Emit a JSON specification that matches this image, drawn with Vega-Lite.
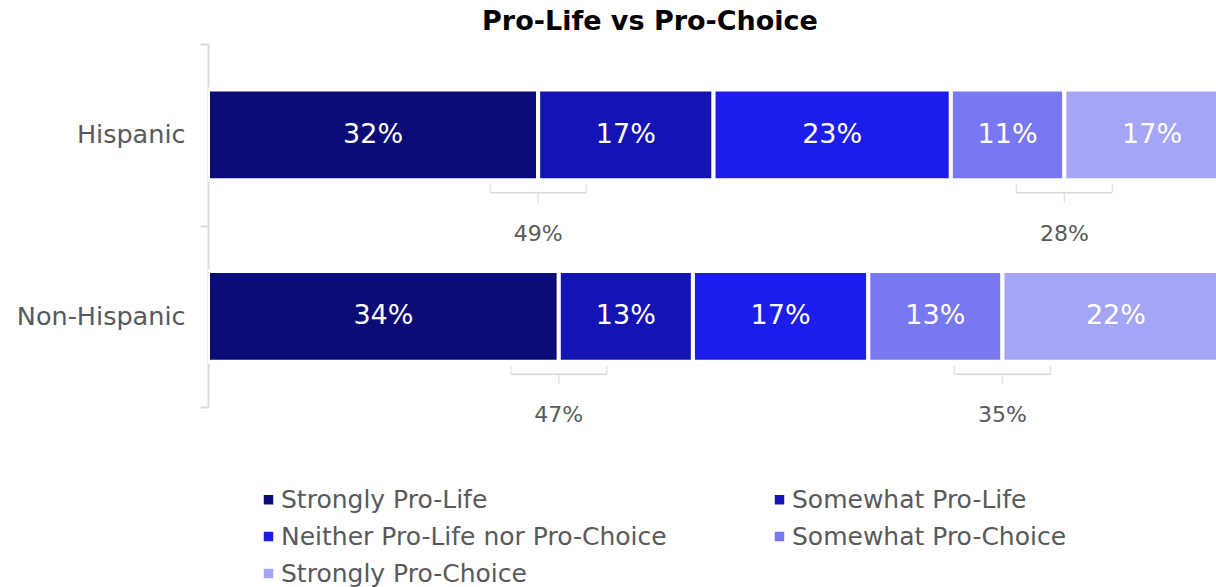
{
  "$schema": "https://vega.github.io/schema/vega-lite/v6.json",
  "autosize": {"type": "none"},
  "width": 1008,
  "height": 363,
  "padding": {"left": 208, "top": 44, "right": 0, "bottom": 180},
  "config": {"view": {"stroke": null}, "font": "DejaVu Sans"},
  "title": {"text": "Pro-Life vs Pro-Choice", "font": "DejaVu Sans", "fontSize": 27, "fontWeight": "bold", "color": "#000000", "anchor": "middle", "dx": -62, "offset": -4},
  "datasets": {
    "bars": [
      {"group": "Hispanic", "k": 1, "stance": "Strongly Pro-Life", "pct": 32, "label": "32%"},
      {"group": "Hispanic", "k": 2, "stance": "Somewhat Pro-Life", "pct": 17, "label": "17%"},
      {"group": "Hispanic", "k": 3, "stance": "Neither Pro-Life nor Pro-Choice", "pct": 23, "label": "23%"},
      {"group": "Hispanic", "k": 4, "stance": "Somewhat Pro-Choice", "pct": 11, "label": "11%"},
      {"group": "Hispanic", "k": 5, "stance": "Strongly Pro-Choice", "pct": 17, "label": "17%"},
      {"group": "Non-Hispanic", "k": 1, "stance": "Strongly Pro-Life", "pct": 34, "label": "34%"},
      {"group": "Non-Hispanic", "k": 2, "stance": "Somewhat Pro-Life", "pct": 13, "label": "13%"},
      {"group": "Non-Hispanic", "k": 3, "stance": "Neither Pro-Life nor Pro-Choice", "pct": 17, "label": "17%"},
      {"group": "Non-Hispanic", "k": 4, "stance": "Somewhat Pro-Choice", "pct": 13, "label": "13%"},
      {"group": "Non-Hispanic", "k": 5, "stance": "Strongly Pro-Choice", "pct": 22, "label": "22%"}
    ],
    "brackets": [
      {"group": "Hispanic", "at": 32, "label": "49%"},
      {"group": "Hispanic", "at": 83, "label": "28%"},
      {"group": "Non-Hispanic", "at": 34, "label": "47%"},
      {"group": "Non-Hispanic", "at": 77, "label": "35%"}
    ]
  },
  "layer": [
    {
      "data": {"name": "bars"},
      "mark": {"type": "bar", "height": {"band": 0.5}, "stroke": "white", "strokeWidth": 4, "clip": true},
      "encoding": {
        "y": {"field": "group", "type": "nominal", "sort": ["Hispanic", "Non-Hispanic"],
          "scale": {"paddingInner": 0, "paddingOuter": 0},
          "axis": {"title": null, "tickBand": "extent", "domainColor": "#D9D9D9", "domainWidth": 2, "tickColor": "#D9D9D9", "tickWidth": 2, "tickSize": 8, "labelFontSize": 25.5, "labelColor": "#595959", "labelPadding": 15, "labelFont": "DejaVu Sans"}},
        "x": {"field": "pct", "type": "quantitative", "stack": "zero", "scale": {"domain": [0, 97.7], "nice": false}, "axis": null},
        "order": {"field": "k", "type": "quantitative"},
        "color": {"field": "stance", "type": "nominal",
          "scale": {"domain": ["Strongly Pro-Life", "Somewhat Pro-Life", "Neither Pro-Life nor Pro-Choice", "Somewhat Pro-Choice", "Strongly Pro-Choice"],
            "range": ["#0C0C77", "#1414B4", "#1D1DEB", "#7878F0", "#A5A5F5"]},
          "legend": {"title": null, "orient": "none", "legendX": 48, "legendY": 443, "columns": 2, "direction": "horizontal", "symbolType": "square", "symbolSize": 90, "symbolStrokeWidth": 0, "labelFontSize": 25, "labelColor": "#595959", "labelFont": "DejaVu Sans", "labelLimit": 700, "labelOffset": 0, "rowPadding": 11, "columnPadding": 100}}
      }
    },
    {
      "data": {"name": "bars"},
      "mark": {"type": "text", "color": "white", "fontSize": 27, "font": "DejaVu Sans"},
      "encoding": {
        "y": {"field": "group", "type": "nominal", "sort": ["Hispanic", "Non-Hispanic"]},
        "x": {"field": "pct", "type": "quantitative", "stack": "zero", "bandPosition": 0.5},
        "order": {"field": "k", "type": "quantitative"},
        "text": {"field": "label"}
      }
    },
    {
      "data": {"name": "brackets"},
      "mark": {"type": "rule", "color": "#D9D9D9", "strokeWidth": 1.5, "xOffset": -48, "x2Offset": 48, "yOffset": 58},
      "encoding": {
        "y": {"field": "group", "type": "nominal", "sort": ["Hispanic", "Non-Hispanic"]},
        "x": {"field": "at", "type": "quantitative"},
        "x2": {"field": "at"}
      }
    },
    {
      "data": {"name": "brackets"},
      "mark": {"type": "tick", "color": "#D9D9D9", "thickness": 1.5, "size": 8, "xOffset": -48, "yOffset": 54},
      "encoding": {
        "y": {"field": "group", "type": "nominal", "sort": ["Hispanic", "Non-Hispanic"]},
        "x": {"field": "at", "type": "quantitative"}
      }
    },
    {
      "data": {"name": "brackets"},
      "mark": {"type": "tick", "color": "#D9D9D9", "thickness": 1.5, "size": 8, "xOffset": 48, "yOffset": 54},
      "encoding": {
        "y": {"field": "group", "type": "nominal", "sort": ["Hispanic", "Non-Hispanic"]},
        "x": {"field": "at", "type": "quantitative"}
      }
    },
    {
      "data": {"name": "brackets"},
      "mark": {"type": "tick", "color": "#D9D9D9", "thickness": 1.5, "size": 10, "yOffset": 63},
      "encoding": {
        "y": {"field": "group", "type": "nominal", "sort": ["Hispanic", "Non-Hispanic"]},
        "x": {"field": "at", "type": "quantitative"}
      }
    },
    {
      "data": {"name": "brackets"},
      "mark": {"type": "text", "color": "#595959", "fontSize": 22, "font": "DejaVu Sans", "yOffset": 99},
      "encoding": {
        "y": {"field": "group", "type": "nominal", "sort": ["Hispanic", "Non-Hispanic"]},
        "x": {"field": "at", "type": "quantitative"},
        "text": {"field": "label"}
      }
    }
  ]
}
